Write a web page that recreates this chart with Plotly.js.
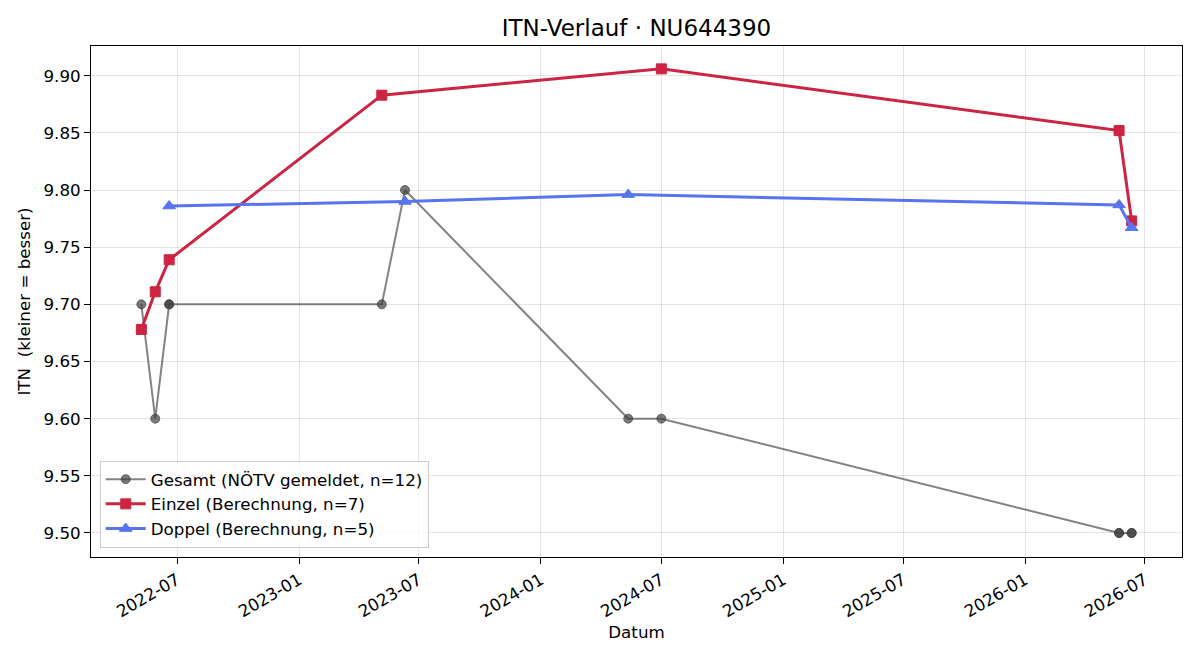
<!DOCTYPE html>
<html>
<head>
<meta charset="utf-8">
<script src="https://cdn.plot.ly/plotly-3.0.1.min.js"></script>
<style>
  html, body { margin: 0; padding: 0; background: #fff; }
  #chart { width: 1200px; height: 660px; }
</style>
</head>
<body>
<div id="chart"></div>
<script>
// Gesamt-ITN laut NÖTV-Meldung
const gesamtDates = ["2022-05-08", "2022-05-29", "2022-06-19", "2022-06-19", "2023-05-06", "2023-06-10",
                     "2024-05-12", "2024-07-01", "2026-05-23", "2026-05-23", "2026-06-11", "2026-06-11"];
const gesamtItn = [9.70, 9.60, 9.70, 9.70, 9.70, 9.80, 9.60, 9.60, 9.50, 9.50, 9.50, 9.50];

// Einzel-ITN (Berechnung)
const einzelDates = ["2022-05-08", "2022-05-29", "2022-06-19", "2023-05-06", "2024-07-01", "2026-05-23", "2026-06-11"];
const einzelItn = [9.678, 9.711, 9.739, 9.883, 9.906, 9.852, 9.773];

// Doppel-ITN (Berechnung)
const doppelDates = ["2022-06-19", "2023-06-10", "2024-05-12", "2026-05-23", "2026-06-11"];
const doppelItn = [9.786, 9.790, 9.796, 9.787, 9.767];

const yTicks = [9.50, 9.55, 9.60, 9.65, 9.70, 9.75, 9.80, 9.85, 9.90];

const traces = [
  {
    x: gesamtDates, y: gesamtItn, type: "scatter", mode: "lines+markers",
    name: "Gesamt (NÖTV gemeldet, n=" + gesamtItn.length + ")",
    line: { color: "rgba(64,64,64,0.65)", width: 2 },
    marker: { symbol: "circle", size: 9, color: "rgba(64,64,64,0.7)",
              line: { color: "rgba(64,64,64,0.7)", width: 1 } }
  },
  {
    x: einzelDates, y: einzelItn, type: "scatter", mode: "lines+markers",
    name: "Einzel (Berechnung, n=" + einzelItn.length + ")",
    line: { color: "#cc2442", width: 3 },
    marker: { symbol: "square", size: 10, color: "#cc2442",
              line: { color: "#cc2442", width: 1 } }
  },
  {
    x: doppelDates, y: doppelItn, type: "scatter", mode: "lines+markers",
    name: "Doppel (Berechnung, n=" + doppelItn.length + ")",
    line: { color: "#5874f0", width: 3 },
    marker: { symbol: "triangle-up", size: 11, color: "#5874f0",
              line: { color: "#5874f0", width: 1 } }
  }
];

const font = "DejaVu Sans, sans-serif";

const layout = {
  width: 1200, height: 660,
  paper_bgcolor: "#fff", plot_bgcolor: "#fff",
  margin: { l: 91, r: 18, t: 46, b: 103 },
  font: { family: font, size: 16.7, color: "#000" },
  title: { text: "ITN-Verlauf · NU644390", font: { family: font, size: 23, color: "#000" },
           xref: "paper", x: 0.5, xanchor: "center", y: 0.958, yanchor: "middle" },
  showlegend: true,
  legend: {
    x: 0.008, y: 0.018, xanchor: "left", yanchor: "bottom",
    bgcolor: "rgba(255,255,255,0.8)", bordercolor: "#cccccc", borderwidth: 1,
    font: { family: font, size: 16.7, color: "#000" },
    tracegroupgap: 0, itemwidth: 40
  },
  xaxis: {
    type: "date",
    range: ["2022-02-21", "2026-08-26"],
    tick0: "2022-01-01", dtick: "M6", tickformat: "%Y-%m",
    tickangle: -30,
    ticks: "outside", ticklen: 6, tickwidth: 1, tickcolor: "#000",
    tickfont: { family: font, size: 16.7, color: "#000" },
    showgrid: true, gridcolor: "rgba(0,0,0,0.1)", gridwidth: 1,
    showline: true, linecolor: "#000", linewidth: 1, mirror: true,
    zeroline: false,
    title: { text: "Datum", font: { family: font, size: 16.7, color: "#000" }, standoff: 6 }
  },
  yaxis: {
    range: [9.479, 9.926],
    tickvals: yTicks, ticktext: yTicks.map(v => v.toFixed(2)),
    ticks: "outside", ticklen: 6, tickwidth: 1, tickcolor: "#000",
    tickfont: { family: font, size: 16.7, color: "#000" },
    showgrid: true, gridcolor: "rgba(0,0,0,0.1)", gridwidth: 1,
    showline: true, linecolor: "#000", linewidth: 1, mirror: true,
    zeroline: false,
    title: { text: "ITN  (kleiner = besser)", font: { family: font, size: 16.7, color: "#000" }, standoff: 8 }
  }
};

Plotly.newPlot("chart", traces, layout, { displayModeBar: false, staticPlot: true });
</script>
</body>
</html>
